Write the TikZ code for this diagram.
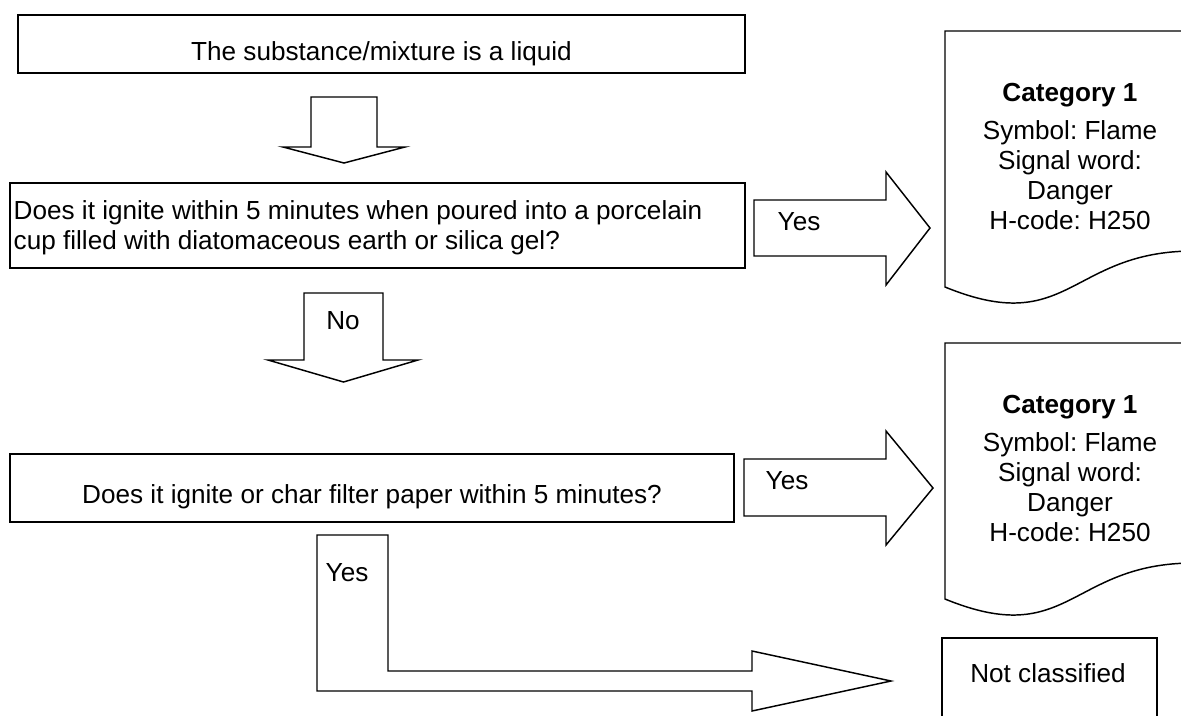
\documentclass[tikz,border=0pt]{standalone}
\usepackage{fontspec}
\setmainfont{Liberation Sans}
\usetikzlibrary{fit}
\frenchspacing
\begin{document}
\begin{tikzpicture}[x=0.75pt,y=-0.75pt, line width=1.1pt, line join=miter,
  every node/.style={font=\fontsize{19.6pt}{22.5pt}\selectfont, inner sep=0pt},
  box/.style={draw, rectangle, inner sep=0pt},
  txt/.style={anchor=base},
  ltxt/.style={anchor=base west},
  blk/.style={draw, fill=white}]
\useasboundingbox (0,0) rectangle (1181,715);
\fill[white] (0,0) rectangle (1181,715);
\clip (0,0) rectangle (1181,715);

% boxes
\node[box, fit={(18,15) (745,73)}] (n1) {};
\node[txt] (t1) at (381.5,60) {The substance/mixture is a liquid};

\node[box, fit={(10,183) (745,268)}] (n2) {};
\node[ltxt] (t2a) at (13,219) {Does it ignite within 5 minutes when poured into a porcelain};
\node[ltxt] (t2b) at (13,249) {cup filled with diatomaceous earth or silica gel?};

\node[box, fit={(10,454) (734,522)}] (n3) {};
\node[txt] (t3) at (372,503) {Does it ignite or char filter paper within 5 minutes?};

\node[box, fit={(942,638) (1157,760)}] (nc) {};
\node[txt] (tnc) at (1048,682) {Not classified};

% documents
\draw[blk] (945,31) -- (1194,31) -- (1194,251)
  .. controls (1069.5,251) and (1069.5,338) .. (945,287) -- cycle;
\node[txt] (d1a) at (1070,101) {\bfseries Category 1};
\node[txt] (d1b) at (1070,139) {Symbol: Flame};
\node[txt] (d1c) at (1070,169) {Signal word:};
\node[txt] (d1d) at (1070,199) {Danger};
\node[txt] (d1e) at (1070,229) {H-code: H250};

\draw[blk] (945,343) -- (1194,343) -- (1194,563)
  .. controls (1069.5,563) and (1069.5,650) .. (945,599) -- cycle;
\node[txt] (d2a) at (1070,413) {\bfseries Category 1};
\node[txt] (d2b) at (1070,451) {Symbol: Flame};
\node[txt] (d2c) at (1070,481) {Signal word:};
\node[txt] (d2d) at (1070,511) {Danger};
\node[txt] (d2e) at (1070,541) {H-code: H250};

% block arrows
\draw[blk] (311,97) -- (377,97) -- (377,147) -- (405,147) -- (344,163)
  -- (283,147) -- (311,147) -- cycle;

\draw[blk] (754,200) -- (886,200) -- (886,172) -- (930,228) -- (886,285)
  -- (886,256) -- (754,256) -- cycle;
\node[ltxt] (y1) at (777,230) {Yes};

\draw[blk] (304,293) -- (383,293) -- (383,360) -- (418,360) -- (343.5,382)
  -- (268,360) -- (304,360) -- cycle;
\node[txt] (no) at (343,329) {No};

\draw[blk] (744,459) -- (886,459) -- (886,431) -- (933,488) -- (886,545)
  -- (886,516) -- (744,516) -- cycle;
\node[ltxt] (y2) at (765,489) {Yes};

\draw[blk] (317,535) -- (388,535) -- (388,671) -- (752,671) -- (752,651)
  -- (891,681) -- (752,711) -- (752,691) -- (317,691) -- cycle;
\node[ltxt] (y3) at (325,581) {Yes};
\end{tikzpicture}
\end{document}
